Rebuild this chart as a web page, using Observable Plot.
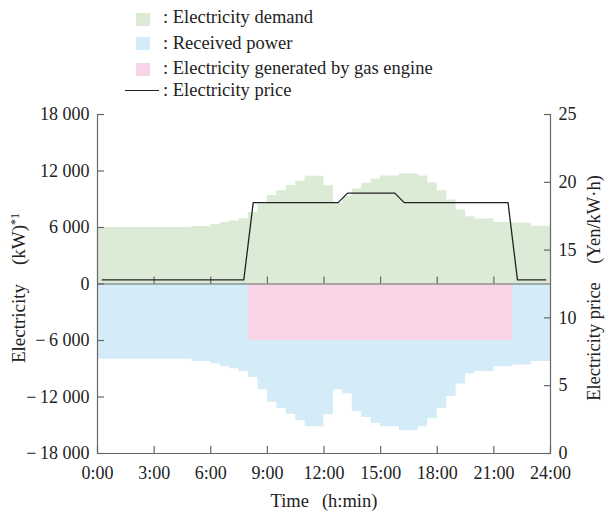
<!DOCTYPE html>
<html>
<head>
<meta charset="utf-8">
<script src="https://cdn.jsdelivr.net/npm/d3@7"></script>
<script src="https://cdn.jsdelivr.net/npm/@observablehq/plot@0.6"></script>
<style>
  body { margin: 0; background: #fff; font-family: "Liberation Serif", "Times New Roman", serif; color: #222; }
  #legend { position: relative; width: 606px; height: 100px; font-size: 18.5px; line-height: 18px; }
  .sw { position: absolute; left: 136px; width: 14px; height: 13px; }
  .lab { position: absolute; left: 163px; white-space: pre; }
  .ln { position: absolute; left: 125px; width: 34px; height: 0; border-top: 1.3px solid #222; }
  #chart svg text { white-space: pre; }
</style>
</head>
<body>
<div id="legend"></div>
<div id="chart"></div>
<script>
// Half-hour slots over one day (kW)
const slotHours = 0.5;
const demand = [
  6000, 6000, 6000, 6000, 6000, 6000, 6000, 6000, 6000, 6000,   // 0:00-5:00
  6100, 6100, 6330, 6540, 6700, 6930,                           // 5:00-8:00
  7600, 8500, 9400, 9900, 10450, 10900, 11430, 11430,           // 8:00-12:00
  10440, 8600, 9300, 10100, 10700, 11150, 11470, 11470,         // 12:00-16:00
  11680, 11680, 11470, 10720, 9910, 8920, 7860, 7150,           // 16:00-20:00
  6900, 6900, 6540, 6540, 6440, 6440, 6120, 6120                // 20:00-24:00
];
const received = [
  -8000, -8000, -8000, -8000, -8000, -8000, -8000, -8000, -8000, -8000,
  -8220, -8220, -8470, -8750, -9000, -9280,
  -9920, -11220, -12570, -13210, -13840, -14520, -15150, -15150,
  -13880, -11260, -11650, -13530, -14170, -14800, -15150, -15150,
  -15580, -15580, -15150, -14300, -13210, -11940, -10620, -9560,
  -9280, -9280, -8780, -8780, -8600, -8600, -8220, -8220
];

// Gas engine output block
const gasStart = 8, gasEnd = 22, gasOutput = -6000;

// Electricity price (Yen/kW·h)
const priceHours = [0.25, 7.75, 8.25, 12.75, 13.25, 15.75, 16.25, 21.75, 22.25, 23.75];
const priceYen   = [12.8, 12.8, 18.5, 18.5, 19.2, 19.2, 18.5, 18.5, 12.8, 12.8];

// Axes
const timeTicks = [0, 3, 6, 9, 12, 15, 18, 21, 24];
const powerTicks = [-18000, -12000, -6000, 0, 6000, 12000, 18000];
const priceTicks = [0, 5, 10, 15, 20, 25];
const powerDomain = [-18000, 18000];
const priceDomain = [0, 25];

const colors = { demand: "#dcebd6", received: "#d4ebf8", gas: "#f8d5e6", price: "#222", axis: "#666" };

// Legend
const legendItems = [
  { kind: "sw", color: colors.demand,   label: ": Electricity demand", top: 12.7, textTop: 8.2 },
  { kind: "sw", color: colors.received, label: ": Received power", top: 37, textTop: 33.9 },
  { kind: "sw", color: colors.gas,      label: ": Electricity generated by gas engine", top: 62.5, textTop: 58.9 },
  { kind: "ln", color: colors.price,    label: ": Electricity price", top: 90, textTop: 80.6 }
];
const legend = document.getElementById("legend");
for (const it of legendItems) {
  const m = document.createElement("div");
  m.className = it.kind;
  m.style.top = it.top + "px";
  if (it.kind === "sw") m.style.background = it.color;
  else m.style.borderTopColor = it.color;
  legend.appendChild(m);
  const t = document.createElement("div");
  t.className = "lab";
  t.style.top = it.textTop + "px";
  t.textContent = it.label;
  legend.appendChild(t);
}

// Secondary (price) axis shares the power scale
const priceToY = d3.scaleLinear().domain(priceDomain).range(powerDomain);

const stepPoints = (arr) => arr.map((v, i) => ({ t: i * slotHours, v }))
  .concat([{ t: arr.length * slotHours, v: arr[arr.length - 1] }]);
const demandPts = stepPoints(demand);
const receivedPts = stepPoints(received);
const pricePts = priceHours.map((t, i) => ({ t, p: priceYen[i] }));

const width = 606, height = 414;
const marginTop = 14, marginBottom = 61, marginLeft = 97, marginRight = 56;
const innerH = height - marginTop - marginBottom;
const tickLen = 7 * (powerDomain[1] - powerDomain[0]) / innerH;

const fmtPower = (d) => {
  const s = d3.format(",")(Math.abs(d)).replace(/,/g, " ");
  return d < 0 ? "\u2212\u2009" + s : s;
};

const chart = Plot.plot({
  width, height, marginTop, marginBottom, marginLeft, marginRight,
  style: { fontFamily: "'Liberation Serif', 'Times New Roman', serif", fontSize: "18px", color: "#222", background: "#fff" },
  x: { domain: [0, 24] },
  y: { domain: powerDomain },
  marks: [
    Plot.areaY(receivedPts, { x: "t", y: "v", curve: "step-after", fill: colors.received }),
    Plot.rect([{ a: gasStart, b: gasEnd, v: gasOutput }], { x1: "a", x2: "b", y1: 0, y2: "v", fill: colors.gas }),
    Plot.areaY(demandPts, { x: "t", y: "v", curve: "step-after", fill: colors.demand }),
    Plot.ruleY([0], { stroke: colors.axis, strokeWidth: 1.2 }),
    Plot.ruleX(timeTicks.slice(1, -1), { x: (d) => d, y1: 0, y2: tickLen, stroke: colors.axis, strokeWidth: 1.2 }),
    Plot.line(pricePts, { x: "t", y: (d) => priceToY(d.p), stroke: colors.price, strokeWidth: 1.3 }),
    Plot.ruleX([0, 24], { stroke: colors.axis, strokeWidth: 1.2 }),
    Plot.ruleY([powerDomain[0]], { stroke: colors.axis, strokeWidth: 1.2 }),
    Plot.axisY({ anchor: "left", ticks: powerTicks, tickFormat: fmtPower, tickSize: -7, tickPadding: 15, stroke: colors.axis, strokeWidth: 1.2, label: null }),
    Plot.axisY({ anchor: "right", ticks: priceTicks.map(priceToY), tickFormat: (d) => d3.format("d")(Math.round(priceToY.invert(d))), tickSize: -7, tickPadding: 15, stroke: colors.axis, strokeWidth: 1.2, label: null }),
    Plot.axisX({ anchor: "bottom", ticks: timeTicks, tickFormat: (h) => h + ":00", tickSize: -7, tickPadding: 20, stroke: colors.axis, strokeWidth: 1.2, label: null }),
    Plot.text(["Electricity\u2003(kW)"], { frameAnchor: "left", textAnchor: "middle", dx: -79, dy: 4, rotate: -90, fontSize: 19, fill: "#222" }),
    Plot.text(["Electricity price\u2003(Yen/kW\u00b7h)"], { frameAnchor: "right", textAnchor: "middle", dx: 44, dy: 4, rotate: -90, fontSize: 18.5, fill: "#222" }),
    Plot.text(["Time\u2002\u2009(h:min)"], { frameAnchor: "bottom", dy: 53, fontSize: 18.5, fill: "#222" })
  ]
});

// Footnote marker on the power axis title
d3.select(chart).selectAll("text")
  .filter(function () { return this.textContent === "Electricity\u2003(kW)"; })
  .append("tspan").attr("dy", "-0.45em").attr("font-size", "12px").text("*1");

document.getElementById("chart").appendChild(chart);
</script>
</body>
</html>
